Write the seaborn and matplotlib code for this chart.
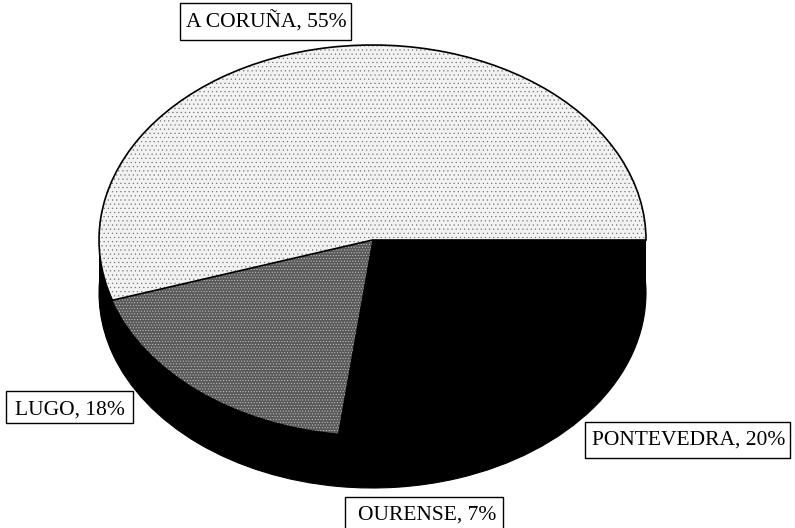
import matplotlib
matplotlib.use("Agg")
import matplotlib.pyplot as plt
from matplotlib.patches import Rectangle
import seaborn as sns

provinces = ["A CORUÑA", "LUGO", "OURENSE", "PONTEVEDRA"]
shares = [55, 18, 7, 20]
wedge_colors = ["#f2f2f2", "#5a5a5a", "#000000", "#000000"]
wedge_hatches = ["....", "......", None, None]
hatch_colors = ["#6e6e6e", "#d0d0d0", "#000000", "#000000"]

W, H = 795, 528
sns.set_style("white")
plt.rcParams["font.family"] = ["Liberation Serif", "DejaVu Serif"]
plt.rcParams["hatch.linewidth"] = 0.35

fig = plt.figure(figsize=(W / 100, H / 100), dpi=100)
# ellipse of the top face, in pixels
cx, cy, rx, ry = 372.5, 240, 273.5, 195
depth = 53 / ry
ax = fig.add_axes([(cx - rx) / W, 1 - (cy + ry) / H, 2 * rx / W, 2 * ry / H])

# side of the pie first, then the top face over it
side, _ = ax.pie(shares, colors=["black"] * 4, center=(0, -depth), startangle=0,
                 wedgeprops=dict(linewidth=0.8, edgecolor="black", clip_on=False))
ax.add_patch(Rectangle((-1, -depth), 2, depth, fc="black", ec="none", clip_on=False))

wedges, _ = ax.pie(shares, colors=wedge_colors, startangle=0,
                   wedgeprops=dict(linewidth=0, clip_on=False))
for w, hatch, hc in zip(wedges, wedge_hatches, hatch_colors):
    w.set_hatch(hatch)
    w.set_edgecolor(hc)
    w.set_linewidth(0)

# only the light slice has a dark outline
outline, _ = ax.pie(shares, colors=["none"] * 4, startangle=0,
                    wedgeprops=dict(linewidth=1.2, edgecolor="black", clip_on=False))
for w in outline[1:]:
    w.set_visible(False)

ax.set_aspect("auto")
ax.set_xlim(-1, 1)
ax.set_ylim(-1, 1)
ax.axis("off")

# label boxes (left, top, right, bottom) and text anchor (left, baseline), in pixels
label_boxes = [(180, 3, 351, 40), (6, 391, 133, 423), (345, 497, 503, 540), (585, 422, 790, 458)]
label_text = [(186, 28), (15, 415), (358, 520), (592, 445)]
for name, share, (x0, y0, x1, y1), (tx, ty) in zip(provinces, shares, label_boxes, label_text):
    fig.add_artist(Rectangle((x0 / W, 1 - y1 / H), (x1 - x0) / W, (y1 - y0) / H,
                             transform=fig.transFigure, fc="white", ec="black", lw=1.0))
    fig.text(tx / W, 1 - ty / H, f"{name}, {share}%", ha="left", va="baseline",
             fontsize=15.5, color="black")

fig.savefig("out.png", dpi=100, facecolor="white")
